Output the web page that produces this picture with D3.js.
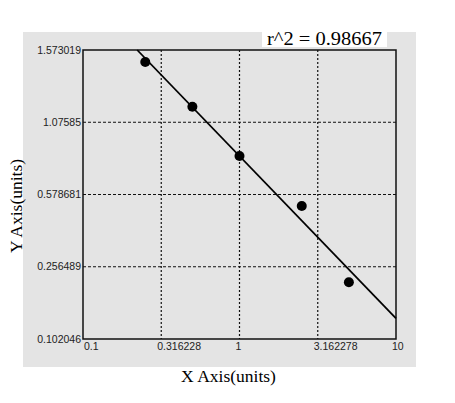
<!DOCTYPE html>
<html><head><meta charset="utf-8">
<script src="https://cdn.jsdelivr.net/npm/d3@7"></script>
<style>body{margin:0;background:#fff}svg{display:block}</style>
</head><body><svg id="c" width="455" height="403"></svg>
<script>
const xTicks = [0.1, 0.316228, 1, 3.162278, 10];
const xTickLabels = ["0.1", "0.316228", "1", "3.162278", "10"];
const yTicks = [0.102046, 0.256489, 0.578681, 1.07585, 1.573019];
const yTickLabels = ["0.102046", "0.256489", "0.578681", "1.07585", "1.573019"];
const xVals = [0.25, 0.5, 1, 2.5, 5];
const yVals = [1.4904, 1.183, 0.8437, 0.5274, 0.2233];
const fitX = [0.222, 10];
const fitY = [1.573019, 0.1463];
const r2Text = "r^2  = 0.98667";
const xTitle = "X Axis(units)";
const yTitle = "Y Axis(units)";

const svg = d3.select("#c");
const L = 83, R = 396, T = 50, B = 339;

svg.append("rect").attr("x", 23).attr("y", 32).attr("width", 393).attr("height", 335).attr("fill", "#e4e4e4");

const x = d3.scaleLog().domain([xTicks[0], xTicks[xTicks.length - 1]]).range([L, R]);
const y = d3.scaleLinear().domain(yTicks)
  .range(yTicks.map((d, i) => B - i * (B - T) / (yTicks.length - 1)));

// grid
const g = svg.append("g");
g.selectAll(".vg").data(xTicks.slice(1, -1)).join("line")
  .attr("x1", d => x(d)).attr("x2", d => x(d)).attr("y1", T).attr("y2", B)
  .attr("stroke", "#111").attr("stroke-width", 1.2).attr("stroke-dasharray", "2,2");
g.selectAll(".hg").data(yTicks.slice(1, -1)).join("line")
  .attr("x1", L).attr("x2", R).attr("y1", d => y(d)).attr("y2", d => y(d))
  .attr("stroke", "#111").attr("stroke-width", 1.2).attr("stroke-dasharray", "3,2");

// frame
svg.append("rect").attr("x", L).attr("y", T).attr("width", R - L).attr("height", B - T)
  .attr("fill", "none").attr("stroke", "#111").attr("stroke-width", 1.5);

// tick labels
svg.selectAll(".yl").data(yTicks).join("text")
  .attr("x", L - 2).attr("y", d => y(d) + 3.5).attr("text-anchor", "end")
  .attr("font-family", "Liberation Sans, Arial, sans-serif").attr("font-size", 10.5).attr("fill", "#222")
  .text((d, i) => yTickLabels[i]);
svg.selectAll(".xl").data(xTicks).join("text")
  .attr("x", (d, i) => x(d) + (i === 0 ? 1 : -4)).attr("y", B + 10.5).attr("text-anchor", "start")
  .attr("font-family", "Liberation Sans, Arial, sans-serif").attr("font-size", 10.5).attr("fill", "#222")
  .text((d, i) => xTickLabels[i]);

// fit line
svg.append("path")
  .attr("d", d3.line().x(d => x(d[0])).y(d => y(d[1]))(fitX.map((v, i) => [v, fitY[i]])))
  .attr("stroke", "#000").attr("stroke-width", 1.8).attr("fill", "none");

// points
svg.selectAll(".pt").data(xVals).join("circle")
  .attr("cx", d => x(d)).attr("cy", (d, i) => y(yVals[i])).attr("r", 5).attr("fill", "#000");

// r^2 label with white background
svg.append("rect").attr("x", 262).attr("y", 29).attr("width", 125).attr("height", 18).attr("fill", "#fff");
svg.append("text").attr("x", 267).attr("y", 44.5)
  .attr("font-family", "Liberation Serif, Times New Roman, serif").attr("font-size", 18)
  .attr("textLength", 115).attr("lengthAdjust", "spacingAndGlyphs")
  .text(r2Text);

// axis titles
svg.append("text").attr("x", 228.5).attr("y", 382).attr("text-anchor", "middle")
  .attr("font-family", "Liberation Serif, Times New Roman, serif").attr("font-size", 17.5)
  .text(xTitle);
svg.append("text").attr("transform", "translate(22,206) rotate(-90)").attr("text-anchor", "middle")
  .attr("font-family", "Liberation Serif, Times New Roman, serif").attr("font-size", 17.5)
  .text(yTitle);
</script></body></html>
